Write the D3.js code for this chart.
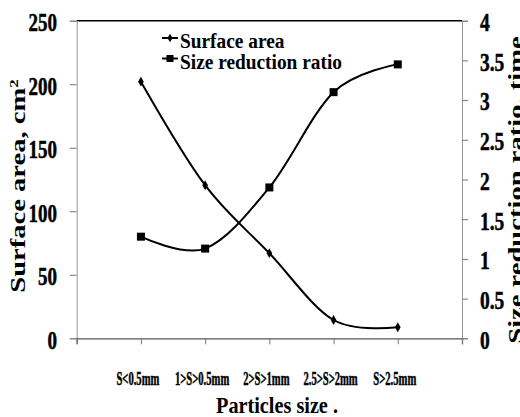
<!DOCTYPE html>
<html><head><meta charset="utf-8">
<script src="https://cdn.jsdelivr.net/npm/d3@7"></script>
<style>
html,body{margin:0;padding:0;background:#fff;}
svg{display:block;}
text{font-family:"Liberation Serif","Times New Roman",serif;font-weight:bold;fill:#000;}
.heavy{stroke:#000;stroke-width:0.5px;}
</style></head>
<body>
<script>
const categories = ["S<0.5mm", "1>S>0.5mm", "2>S>1mm", "2.5>S>2mm", "S>2.5mm"];
const surfaceArea = [202, 120.5, 67, 14.4, 8.7];
const sizeRatio = [1.28, 1.13, 1.9, 3.1, 3.45];
const leftTicks = [0, 50, 100, 150, 200, 250];
const rightTicks = [0, 0.5, 1, 1.5, 2, 2.5, 3, 3.5, 4];
const leftTitle = "Surface area, cm";
const rightTitle = "Size reduction ratio, time";
const xTitle = "Particles size .";
const legendLabels = ["Surface area", "Size reduction ratio"];

const W = 520, H = 417;
const m = {left: 76.7, right: 462, top: 20.7, bottom: 338.3};

const svg = d3.select("body").append("svg").attr("width", W).attr("height", H);

const x = d3.scaleLinear().domain([-1, categories.length]).range([m.left, m.right]);
const yL = d3.scaleLinear().domain([0, 250]).range([m.bottom, m.top]);
const yR = d3.scaleLinear().domain([0, 4]).range([m.bottom, m.top]);

// top frame line
svg.append("line").attr("x1", m.left).attr("x2", m.right).attr("y1", m.top).attr("y2", m.top)
  .attr("stroke", "#000").attr("stroke-width", 1.5);

// left axis
const gL = svg.append("g").attr("transform", `translate(${m.left},0)`)
  .call(d3.axisLeft(yL).tickValues(leftTicks).tickSize(7).tickFormat(""));
gL.select(".domain").attr("stroke", "#999");
gL.selectAll(".tick line").attr("stroke", "#777");
svg.selectAll(".ltl").data(leftTicks).enter().append("text").attr("class", "heavy")
  .attr("transform", d => `translate(57,${yL(d) + 2}) scale(0.76,1)`)
  .attr("text-anchor", "end").attr("dominant-baseline", "central")
  .style("font-size", "25px").text(d => d);

// right axis
const gR = svg.append("g").attr("transform", `translate(${m.right},0)`)
  .call(d3.axisRight(yR).tickValues(rightTicks).tickSize(6).tickFormat(""));
gR.select(".domain").attr("stroke", "#999");
gR.selectAll(".tick line").attr("stroke", "#777");
svg.selectAll(".rtl").data(rightTicks).enter().append("text").attr("class", "heavy")
  .attr("transform", d => `translate(480,${yR(d) + 2}) scale(0.78,1)`)
  .attr("text-anchor", "start").attr("dominant-baseline", "central")
  .style("font-size", "25px").text(d => d);

// bottom axis
const gB = svg.append("g").attr("transform", `translate(0,${m.bottom})`)
  .call(d3.axisBottom(x).tickValues(d3.range(-1, categories.length + 1)).tickSize(6).tickFormat(""));
gB.select(".domain").attr("stroke", "#555").attr("stroke-width", 1.3);
gB.selectAll(".tick line").attr("stroke", "#777");
svg.selectAll(".xtl").data(categories).enter().append("text").attr("class", "heavy")
  .attr("transform", (d, i) => `translate(${x(i) - 3},385) scale(0.56,1)`)
  .attr("text-anchor", "middle")
  .style("font-size", "19px").text(d => d);

// axis titles
const lt = svg.append("text").attr("transform", `translate(25,186) rotate(-90) scale(1.3,1)`)
  .attr("text-anchor", "middle").style("font-size", "22px");
lt.append("tspan").text(leftTitle);
lt.append("tspan").attr("baseline-shift", "super").style("font-size", "13px").text("2");

svg.append("text").attr("transform", `translate(523,190) rotate(-90) scale(1.3,1)`)
  .attr("text-anchor", "middle").style("font-size", "22px").text(rightTitle);

svg.append("text").attr("transform", `translate(277,413) scale(0.88,1)`)
  .attr("text-anchor", "middle").style("font-size", "23px").text(xTitle);

// lines
const lineS = d3.line().x((d, i) => x(i)).y(d => yL(d)).curve(d3.curveCardinal.tension(0));
const lineR = d3.line().x((d, i) => x(i)).y(d => yR(d)).curve(d3.curveCardinal.tension(0));
svg.append("path").datum(surfaceArea).attr("d", lineS).attr("fill", "none").attr("stroke", "#000").attr("stroke-width", 2);
svg.append("path").datum(sizeRatio).attr("d", lineR).attr("fill", "none").attr("stroke", "#000").attr("stroke-width", 2);

const diamond = d3.symbol().type(d3.symbolDiamond).size(28);
svg.selectAll(".ds").data(surfaceArea).enter().append("path")
  .attr("d", diamond).attr("transform", (d, i) => `translate(${x(i)},${yL(d)})`).attr("fill", "#000");
svg.selectAll(".sq").data(sizeRatio).enter().append("rect")
  .attr("x", (d, i) => x(i) - 4).attr("y", d => yR(d) - 4).attr("width", 8).attr("height", 8).attr("fill", "#000");

// legend
const lg = svg.append("g");
legendLabels.forEach((lab, i) => {
  const by = 48 + i * 20.5;
  const sy = by - 10;
  lg.append("line").attr("x1", 162).attr("x2", 178).attr("y1", sy).attr("y2", sy).attr("stroke", "#000").attr("stroke-width", 2);
  if (i === 0) {
    lg.append("path").attr("d", d3.symbol().type(d3.symbolDiamond).size(22)).attr("transform", `translate(170,${sy})`).attr("fill", "#000");
  } else {
    lg.append("rect").attr("x", 166.5).attr("y", sy - 3.5).attr("width", 7).attr("height", 7).attr("fill", "#000");
  }
  lg.append("text").attr("transform", `translate(180,${by}) scale(0.88,1)`).style("font-size", "22px").text(lab);
});
</script>
</body></html>
